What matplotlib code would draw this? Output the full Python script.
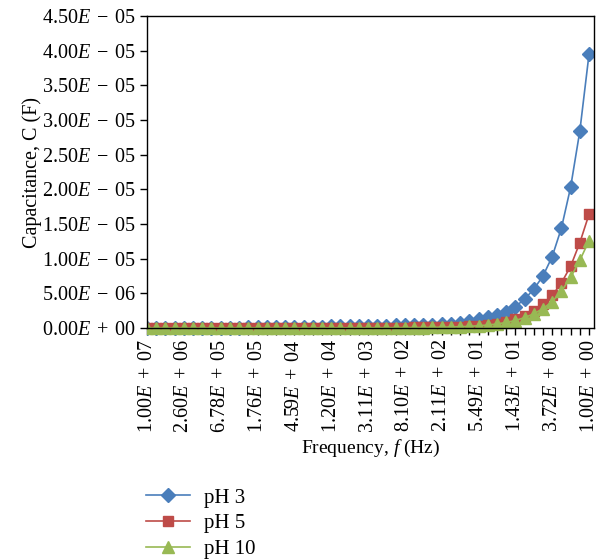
import matplotlib
matplotlib.use("Agg")
import matplotlib.pyplot as plt
from matplotlib.transforms import Bbox, TransformedBbox

# ------------------------
# Data
# ------------------------
frequencies = [
    "1.00E+07", "7.14E+06", "5.10E+06", "3.64E+06",
    "2.60E+06", "1.86E+06", "1.33E+06", "9.49E+05",
    "6.78E+05", "4.84E+05", "3.45E+05", "2.47E+05",
    "1.76E+05", "1.26E+05", "8.99E+04", "6.42E+04",
    "4.59E+04", "3.28E+04", "2.35E+04", "1.68E+04",
    "1.20E+04", "8.56E+03", "6.11E+03", "4.36E+03",
    "3.11E+03", "2.22E+03", "1.59E+03", "1.13E+03",
    "8.10E+02", "5.79E+02", "4.13E+02", "2.95E+02",
    "2.11E+02", "1.51E+02", "1.08E+02", "7.69E+01",
    "5.49E+01", "3.92E+01", "2.80E+01", "2.00E+01",
    "1.43E+01", "1.02E+01", "7.30E+00", "5.21E+00",
    "3.72E+00", "2.68E+00", "1.93E+00", "1.39E+00",
    "1.00E+00",
]

# capacitance in units of 1e-6 F
ph3 = [0.02, 0.02, 0.03, 0.03, 0.03, 0.04, 0.04, 0.05, 0.05, 0.06,
       0.07, 0.08, 0.09, 0.10, 0.11, 0.12, 0.14, 0.16, 0.18, 0.20,
       0.22, 0.24, 0.26, 0.28, 0.30, 0.32, 0.34, 0.37, 0.40, 0.43,
       0.46, 0.50, 0.55, 0.60, 0.75, 0.94, 1.23, 1.56, 1.90, 2.30,
       3.10, 4.15, 5.60, 7.50, 10.3, 14.4, 20.3, 28.4, 39.5]
ph5 = [0.01, 0.01, 0.01, 0.01, 0.01, 0.01, 0.01, 0.01, 0.01, 0.01,
       0.01, 0.01, 0.02, 0.02, 0.02, 0.02, 0.02, 0.03, 0.03, 0.03,
       0.03, 0.04, 0.04, 0.04, 0.05, 0.05, 0.06, 0.06, 0.07, 0.08,
       0.09, 0.10, 0.12, 0.15, 0.19, 0.24, 0.30, 0.40, 0.60, 0.90,
       1.30, 1.80, 2.50, 3.40, 4.70, 6.50, 8.90, 12.3, 16.4]
ph10 = [0.00, 0.00, 0.00, 0.00, 0.00, 0.00, 0.00, 0.00, 0.00, 0.00,
        0.01, 0.01, 0.01, 0.01, 0.01, 0.01, 0.01, 0.01, 0.02, 0.02,
        0.02, 0.02, 0.02, 0.03, 0.03, 0.03, 0.04, 0.04, 0.05, 0.06,
        0.07, 0.09, 0.11, 0.14, 0.18, 0.24, 0.32, 0.43, 0.58, 0.80,
        1.08, 1.50, 2.05, 2.80, 3.80, 5.30, 7.30, 9.75, 12.6]

y_ticks = [0, 5e-6, 1e-5, 1.5e-5, 2e-5, 2.5e-5, 3e-5, 3.5e-5, 4e-5, 4.5e-5]
y_ticklabels = ["0.00E+00", "5.00E-06", "1.00E-05", "1.50E-05", "2.00E-05",
                "2.50E-05", "3.00E-05", "3.50E-05", "4.00E-05", "4.50E-05"]

series = [
    ("pH 3", ph3, "#4A7EBB", "D", 7.3),
    ("pH 5", ph5, "#BE4B48", "s", 7.8),
    ("pH 10", ph10, "#98B954", "^", 8.8),
]

# ------------------------
# Style
# ------------------------
plt.rcParams["font.family"] = ["Liberation Serif", "DejaVu Serif"]
plt.rcParams["mathtext.fontset"] = "custom"
plt.rcParams["mathtext.rm"] = "Liberation Serif"
plt.rcParams["mathtext.it"] = "Liberation Serif:italic"

SP = "\u2004"  # three-per-em space around the sign


def fmt_sci(s):
    # "4.50E-05" -> "4.50E − 05" with an italic E
    mant, exp = s.split("E")
    sign = "\u2212" if exp[0] == "-" else "+"
    return mant + "$E$" + SP + sign + SP + exp[1:]


fig = plt.figure(figsize=(6.02, 5.6), dpi=100)
ax = fig.add_axes([147 / 602, 1 - 328 / 560, 447 / 602, 312 / 560])

x = list(range(len(frequencies)))
clip = TransformedBbox(Bbox([[0, -0.1], [1, 1]]), ax.transAxes)
for name, vals, color, marker, ms in series:
    line, = ax.plot(x, [v * 1e-6 for v in vals], color=color, lw=1.2,
                    marker=marker, ms=ms, mec=color, mfc=color, label=name)
    line.set_clip_box(clip)

ax.set_xlim(0, len(frequencies) - 1 + 0.54)
ax.set_ylim(0, 4.5e-5)

ax.set_xticks(x)
ax.set_xticklabels([fmt_sci(f) if i % 4 == 0 else "" for i, f in enumerate(frequencies)],
                   rotation=90, fontsize=14.5)
ax.set_yticks(y_ticks)
ax.set_yticklabels([fmt_sci(t) for t in y_ticklabels], fontsize=14.5)
ax.tick_params(direction="out", length=5, width=1, color="black", pad=3)

for sp in ax.spines.values():
    sp.set_linewidth(1.0)
    sp.set_color("black")

ax.set_xlabel("Frequency, $f$ (Hz)", fontsize=14, labelpad=3)
ax.set_ylabel("Capacitance, C (F)", fontsize=14.5, labelpad=0)

fig.legend(loc="upper left", bbox_to_anchor=(146 / 602, 1 - 488 / 560),
           frameon=False, fontsize=15, handlelength=2.1, handletextpad=0.7,
           labelspacing=0.3, borderpad=0, borderaxespad=0)

fig.savefig("out.png", dpi=100)
